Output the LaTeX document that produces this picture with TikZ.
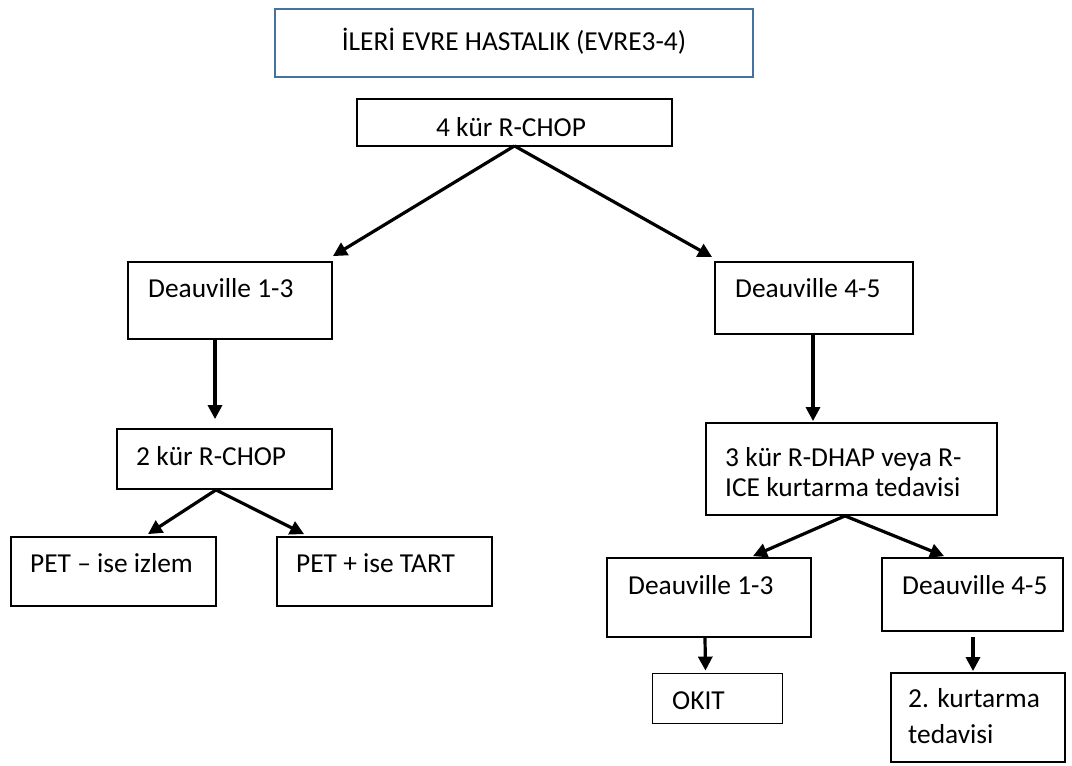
\documentclass[tikz,border=0pt]{standalone}
\usepackage{fontspec}
\setmainfont{Carlito}
\usetikzlibrary{arrows.meta}
\definecolor{titleblue}{RGB}{70,114,160}
\tikzset{
  box/.style={draw=black, line width=1.8pt, rectangle, inner sep=0pt},
  titlebox/.style={draw=titleblue, line width=1.8pt, rectangle, inner sep=0pt},
  txt/.style={anchor=base west, inner sep=0pt, font=\fontsize{27.4}{32}\selectfont},
  ctxt/.style={anchor=base, inner sep=0pt, font=\fontsize{27.4}{32}\selectfont},
  arr/.style={line width=3.2pt, -{Triangle[length=14pt,width=14pt]}}
}
\begin{document}
\begin{tikzpicture}[x=1pt,y=-1pt]
\useasboundingbox (0,0) rectangle (1072,766);
\fill[white] (0,0) rectangle (1072,766);

% boxes
\node[titlebox, minimum width=478pt, minimum height=68pt] (title) at (514,43) {};
\node[box, minimum width=315pt, minimum height=47pt] (top) at (514.5,122.5) {};
\node[box, minimum width=204pt, minimum height=77pt] (d13) at (230,300.5) {};
\node[box, minimum width=198pt, minimum height=72pt] (d45) at (814,298) {};
\node[box, minimum width=215pt, minimum height=60pt] (r2) at (224.5,459) {};
\node[box, minimum width=205pt, minimum height=69pt] (pm) at (113.5,571.5) {};
\node[box, minimum width=215pt, minimum height=69pt] (pp) at (384.5,571.5) {};
\node[box, minimum width=291pt, minimum height=92pt] (sal) at (851.5,469) {};
\node[box, minimum width=204pt, minimum height=79pt] (dd13) at (709,597.5) {};
\node[box, minimum width=181pt, minimum height=73pt] (dd45) at (972.5,594.5) {};
\node[box, minimum width=130pt, minimum height=50pt] (okit) at (717.5,698.5) {};
\node[box, minimum width=174pt, minimum height=89pt] (k2) at (978,717.5) {};

% texts
\node[ctxt] (titlet) at (514,50) {İLERİ EVRE HASTALIK (EVRE3-4)};
\node[ctxt] (topt) at (511,136) {4 kür R-CHOP};
\node[txt] (d13t) at (148,297) {Deauville 1-3};
\node[txt] (d45t) at (735,297) {Deauville 4-5};
\node[txt] (r2t) at (136,465) {2 kür R-CHOP};
\node[txt] (pmt) at (30,572) {PET – ise izlem};
\node[txt] (ppt) at (296,572) {PET + ise TART};
\node[txt] (salt1) at (725,466) {3 kür R-DHAP veya R-};
\node[txt] (salt2) at (725,496) {ICE kurtarma tedavisi};
\node[txt] (dd13t) at (628,594) {Deauville 1-3};
\node[txt] (dd45t) at (902,594) {Deauville 4-5};
\node[txt] (okitt) at (672,709) {OKIT};
\node[txt] (k2t1) at (908,707) {2. kurtarma};
\node[txt] (k2t2) at (908,743) {tedavisi};

% connectors
\draw[arr] ([yshift=1pt]top.south) -- ([xshift=0pt,yshift=5pt]d13.north east);
\draw[arr] ([yshift=1pt]top.south) -- ([xshift=-2pt,yshift=4pt]d45.north west);
\draw[arr] ([xshift=-15pt]d13.south) -- ([xshift=-9.5pt,yshift=9pt]r2.north);
\draw[arr] ([xshift=-1pt]d45.south) -- ([xshift=-38.5pt,yshift=1pt]sal.north);
\draw[arr] ([xshift=-8.5pt]r2.south) -- ([xshift=34.5pt,yshift=2pt]pm.north);
\draw[arr] ([xshift=-8.5pt]r2.south) -- ([xshift=28pt,yshift=2pt]pp.north west);
\draw[arr] ([xshift=-6.5pt]sal.south) -- ([xshift=44pt,yshift=1pt]dd13.north);
\draw[arr] ([xshift=-6.5pt]sal.south) -- ([xshift=63pt,yshift=1pt]dd45.north west);
\draw[arr] ([xshift=-4pt]dd13.south) -- ([xshift=-12pt,yshift=2pt]okit.north);
\draw[arr] ([xshift=0.5pt,yshift=-5pt]dd45.south) -- ([xshift=-5pt,yshift=1pt]k2.north);
\end{tikzpicture}
\end{document}
